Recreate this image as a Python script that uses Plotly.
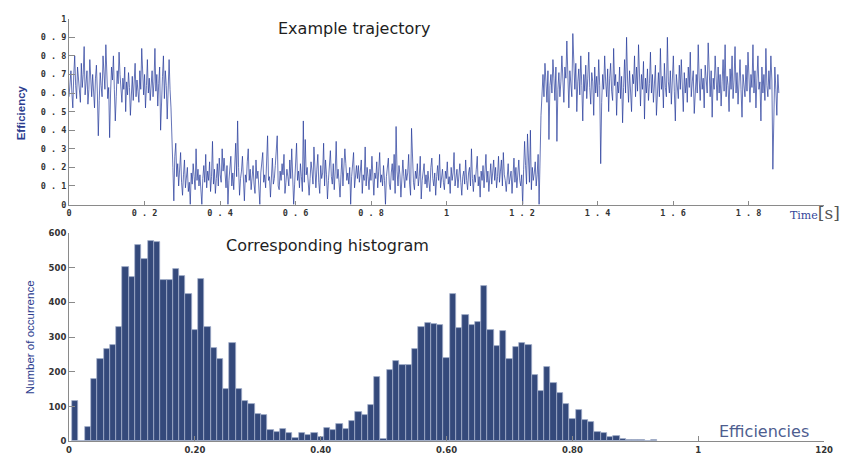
import numpy as np
import plotly.graph_objects as go

# ---------------- trajectory (efficiency vs time) ----------------
# three dwell segments: high state, low state, high state again
seg1_span = (0.000, 0.270)
eff_seg1 = [0.58, 0.66, 0.72, 0.60, 0.52, 0.70, 0.80, 0.64, 0.57, 0.74,
            0.68, 0.61, 0.55, 0.76, 0.63, 0.70, 0.85, 0.59, 0.66, 0.72,
            0.54, 0.62, 0.78, 0.67, 0.58, 0.70, 0.63, 0.52, 0.68, 0.75,
            0.60, 0.37, 0.56, 0.71, 0.64, 0.58, 0.80, 0.66, 0.62, 0.86,
            0.70, 0.57, 0.63, 0.36, 0.60, 0.74, 0.67, 0.80, 0.62, 0.45,
            0.58, 0.72, 0.65, 0.82, 0.70, 0.60, 0.55, 0.68, 0.62, 0.74,
            0.50, 0.66, 0.59, 0.71, 0.63, 0.48, 0.60, 0.69, 0.56, 0.64,
            0.76, 0.58, 0.67, 0.61, 0.55, 0.72, 0.62, 0.84, 0.66, 0.59,
            0.70, 0.52, 0.64, 0.78, 0.60, 0.68, 0.56, 0.63, 0.72, 0.58,
            0.66, 0.84, 0.61, 0.70, 0.53, 0.65, 0.74, 0.40, 0.62, 0.69,
            0.80, 0.57, 0.72, 0.64, 0.46, 0.70, 0.78, 0.62, 0.52]

seg2_span = (0.275, 1.245)
eff_seg2 = [0.20, 0.02, 0.26, 0.33, 0.15, 0.22, 0.10, 0.18, 0.28, 0.12,
            0.05, 0.16, 0.24, 0.09, 0.14, 0.20, 0.07, 0.12, 0.00, 0.17,
            0.11, 0.22, 0.15, 0.08, 0.30, 0.13, 0.19, 0.10, 0.16, 0.05,
            0.00, 0.14, 0.21, 0.12, 0.27, 0.09, 0.18, 0.13, 0.23, 0.07,
            0.15, 0.34, 0.11, 0.19, 0.06, 0.14, 0.22, 0.10, 0.25, 0.16,
            0.12, 0.30, 0.18, 0.25, 0.14, 0.09, 0.21, 0.00, 0.13, 0.19,
            0.26, 0.10, 0.17, 0.08, 0.22, 0.33, 0.15, 0.45, 0.20, 0.05,
            0.14, 0.18, 0.26, 0.09, 0.02, 0.16, 0.12, 0.23, 0.30, 0.13,
            0.19, 0.08, 0.15, 0.21, 0.11, 0.06, 0.24, 0.14, 0.18, 0.10,
            0.00, 0.17, 0.22, 0.28, 0.12, 0.16, 0.09, 0.20, 0.37, 0.13,
            0.15, 0.04, 0.19, 0.25, 0.11, 0.14, 0.21, 0.32, 0.37, 0.10,
            0.08, 0.18, 0.13, 0.22, 0.16, 0.27, 0.06, 0.12, 0.19, 0.15,
            0.10, 0.24, 0.14, 0.30, 0.17, 0.00, 0.11, 0.20, 0.33, 0.13,
            0.18, 0.09, 0.22, 0.15, 0.07, 0.45, 0.12, 0.35, 0.16, 0.20,
            0.10, 0.05, 0.14, 0.23, 0.18, 0.11, 0.31, 0.15, 0.09, 0.19,
            0.27, 0.12, 0.06, 0.21, 0.14, 0.17, 0.33, 0.10, 0.24, 0.16,
            0.03, 0.13, 0.20, 0.29, 0.15, 0.11, 0.22, 0.08, 0.18, 0.34,
            0.14, 0.19, 0.12, 0.04, 0.16, 0.25, 0.10, 0.21, 0.30, 0.22,
            0.13, 0.17, 0.11, 0.20, 0.00, 0.15, 0.24, 0.28, 0.09, 0.18,
            0.21, 0.14, 0.21, 0.12, 0.19, 0.24, 0.06, 0.16, 0.13, 0.31,
            0.10, 0.20, 0.15, 0.08, 0.19, 0.13, 0.26, 0.11, 0.05, 0.17,
            0.14, 0.23, 0.09, 0.18, 0.28, 0.12, 0.16, 0.10, 0.21, 0.13,
            0.00, 0.15, 0.19, 0.25, 0.11, 0.08, 0.17, 0.22, 0.13, 0.27,
            0.06, 0.42, 0.18, 0.10, 0.21, 0.16, 0.04, 0.12, 0.24, 0.15,
            0.09, 0.19, 0.13, 0.17, 0.27, 0.11, 0.05, 0.41, 0.20, 0.12,
            0.08, 0.18, 0.14, 0.22, 0.10, 0.15, 0.26, 0.03, 0.13, 0.19,
            0.22, 0.11, 0.16, 0.09, 0.18, 0.12, 0.07, 0.20, 0.25, 0.14,
            0.10, 0.17, 0.05, 0.15, 0.21, 0.13, 0.27, 0.09, 0.16, 0.19,
            0.12, 0.08, 0.18, 0.14, 0.23, 0.11, 0.15, 0.06, 0.20, 0.13,
            0.17, 0.28, 0.10, 0.14, 0.19, 0.09, 0.16, 0.22, 0.12, 0.05,
            0.15, 0.18, 0.11, 0.24, 0.13, 0.08, 0.17, 0.20, 0.10, 0.30,
            0.14, 0.07, 0.16, 0.12, 0.19, 0.26, 0.10, 0.15, 0.04, 0.18,
            0.13, 0.21, 0.09, 0.16, 0.27, 0.12, 0.18, 0.07, 0.14, 0.22,
            0.11, 0.17, 0.24, 0.13, 0.20, 0.09, 0.15, 0.26, 0.12, 0.18,
            0.24, 0.10, 0.28, 0.16, 0.13, 0.07, 0.19, 0.22, 0.11, 0.15,
            0.18, 0.06, 0.14, 0.25, 0.12, 0.20, 0.09, 0.17, 0.24, 0.13,
            0.10, 0.16, 0.00, 0.19, 0.34, 0.21, 0.11, 0.38, 0.26, 0.12,
            0.40, 0.08, 0.20, 0.13, 0.17, 0.23, 0.10, 0.16, 0.27, 0.00]

seg3_span = (1.250, 1.880)
eff_seg3 = [0.48, 0.62, 0.70, 0.58, 0.76, 0.66, 0.55, 0.72, 0.35, 0.64,
            0.70, 0.60, 0.78, 0.68, 0.56, 0.74, 0.34, 0.62, 0.71, 0.58,
            0.66, 0.80, 0.62, 0.55, 0.74, 0.68, 0.88, 0.60, 0.52, 0.72,
            0.64, 0.58, 0.92, 0.70, 0.62, 0.76, 0.50, 0.66, 0.73, 0.59,
            0.80, 0.64, 0.45, 0.70, 0.61, 0.75, 0.57, 0.68, 0.82, 0.63,
            0.54, 0.71, 0.66, 0.48, 0.74, 0.60, 0.69, 0.58, 0.78, 0.64,
            0.22, 0.55, 0.70, 0.62, 0.80, 0.66, 0.58, 0.73, 0.50, 0.68,
            0.76, 0.61, 0.56, 0.84, 0.64, 0.70, 0.48, 0.66, 0.60, 0.74,
            0.57, 0.69, 0.44, 0.63, 0.78, 0.60, 0.90, 0.67, 0.55, 0.72,
            0.62, 0.50, 0.70, 0.65, 0.80, 0.58, 0.74, 0.61, 0.86, 0.66,
            0.53, 0.70, 0.62, 0.77, 0.46, 0.68, 0.60, 0.73, 0.56, 0.65,
            0.82, 0.60, 0.70, 0.55, 0.67, 0.75, 0.48, 0.64, 0.71, 0.58,
            0.84, 0.62, 0.69, 0.52, 0.76, 0.63, 0.58, 0.90, 0.66, 0.60,
            0.72, 0.54, 0.68, 0.80, 0.61, 0.45, 0.70, 0.64, 0.57, 0.75,
            0.62, 0.78, 0.66, 0.50, 0.71, 0.60, 0.68, 0.55, 0.74, 0.63,
            0.82, 0.58, 0.66, 0.72, 0.49, 0.64, 0.70, 0.60, 0.86, 0.67,
            0.56, 0.73, 0.62, 0.68, 0.52, 0.75, 0.64, 0.60, 0.87, 0.66,
            0.58, 0.72, 0.47, 0.68, 0.62, 0.80, 0.65, 0.56, 0.74, 0.60,
            0.70, 0.53, 0.66, 0.78, 0.61, 0.86, 0.58, 0.69, 0.64, 0.50,
            0.73, 0.62, 0.80, 0.57, 0.67, 0.85, 0.60, 0.71, 0.54, 0.66,
            0.78, 0.62, 0.47, 0.70, 0.64, 0.58, 0.75, 0.61, 0.82, 0.66,
            0.55, 0.70, 0.63, 0.86, 0.60, 0.72, 0.52, 0.68, 0.80, 0.62,
            0.66, 0.45, 0.74, 0.60, 0.70, 0.56, 0.84, 0.64, 0.58, 0.72,
            0.62, 0.80, 0.67, 0.19, 0.55, 0.74, 0.62, 0.48, 0.70, 0.60]

traj_x_ticks = [0, 0.2, 0.4, 0.6, 0.8, 1.0, 1.2, 1.4, 1.6, 1.8, 2.0]
traj_x_labels = ["0", "0 . 2", "0 . 4", "0 . 6", "0 . 8", "1",
                 "1 . 2", "1 . 4", "1 . 6", "1 . 8", ""]
traj_y_ticks = [0, 0.1, 0.2, 0.3, 0.4, 0.5, 0.6, 0.7, 0.8, 0.9, 1.0]
traj_y_labels = ["0", "0 . 1", "0 . 2", "0 . 3", "0 . 4", "0 . 5",
                 "0 . 6", "0 . 7", "0 . 8", "0 . 9", "1"]

# ---------------- histogram of efficiencies ----------------
bin_width = 0.01
hist_counts = [117, 0, 41, 180, 236, 265, 278, 328, 503, 472,
               566, 524, 578, 575, 464, 466, 496, 477, 425, 321,
               467, 330, 268, 238, 152, 282, 152, 116, 109, 80,
               75, 33, 28, 37, 24, 9, 23, 19, 23, 14,
               38, 32, 49, 36, 58, 85, 76, 106, 185, 8,
               205, 232, 220, 219, 267, 330, 342, 339, 335, 239,
               424, 326, 364, 334, 345, 447, 322, 275, 319, 236,
               273, 282, 277, 192, 146, 214, 167, 140, 107, 64,
               89, 61, 56, 28, 23, 13, 15, 8, 5, 5,
               3, 0, 3]
hist_x_ticks = [0, 0.2, 0.4, 0.6, 0.8, 1.0, 1.2]
hist_x_labels = ["0", "0.20", "0.40", "0.60", "0.80", "1", "120"]
hist_y_ticks = [0, 100, 200, 300, 400, 500, 600]

# ---------------- build traces ----------------
times, effs = [], []
for (t0, t1), vals in [(seg1_span, eff_seg1), (seg2_span, eff_seg2), (seg3_span, eff_seg3)]:
    times.append(np.linspace(t0, t1, len(vals)))
    effs.append(np.asarray(vals))
time = np.concatenate(times)
eff = np.concatenate(effs)

bin_centres = bin_width * np.arange(1, len(hist_counts) + 1)

W, H = 843, 460
def px(x):
    return x / W
def py(y):
    return 1 - y / H

AX_COLOR = "#8a8a8a"
TICK_FONT_TOP = dict(family="DejaVu Sans Mono", size=8.5, color="#333333", weight="bold")
TICK_FONT_BOT = dict(family="DejaVu Sans", size=8.5, color="#333333", weight="bold")
LABEL_FONT = "Liberation Sans, Arial, sans-serif"

fig = go.Figure()
fig.add_trace(go.Scatter(
    x=time, y=eff, mode="lines",
    line=dict(color="#23389a", width=0.7),
    xaxis="x", yaxis="y", showlegend=False, hoverinfo="skip",
))
fig.add_trace(go.Bar(
    x=bin_centres, y=hist_counts, width=bin_width,
    marker=dict(color="#34497b", line=dict(color="#a7b3cf", width=0.7)),
    xaxis="x2", yaxis="y2", showlegend=False, hoverinfo="skip",
))

x_dom = [px(67), px(833)]
common = dict(showgrid=False, zeroline=False, showline=True, linecolor=AX_COLOR,
              linewidth=1, ticks="inside", tickcolor=AX_COLOR, mirror=False)

fig.update_layout(
    width=W, height=H,
    margin=dict(l=0, r=0, t=0, b=0),
    paper_bgcolor="white", plot_bgcolor="white",
    bargap=0,
    xaxis=dict(domain=x_dom, range=[0, 2], anchor="y",
               tickmode="array", tickvals=traj_x_ticks, ticktext=traj_x_labels,
               ticklen=4, tickfont=TICK_FONT_TOP, **common),
    yaxis=dict(domain=[py(204), py(14)], range=[0, 1], anchor="x",
               tickmode="array", tickvals=traj_y_ticks, ticktext=traj_y_labels,
               ticklen=6, tickfont=TICK_FONT_TOP, **common),
    xaxis2=dict(domain=x_dom, range=[0, 1.2], anchor="y2",
                tickmode="array", tickvals=hist_x_ticks, ticktext=hist_x_labels,
                ticklen=5, tickfont=TICK_FONT_BOT, **common),
    yaxis2=dict(domain=[py(446), py(233)], range=[0, 600], anchor="x2",
                tickmode="array", tickvals=hist_y_ticks,
                ticklen=6, tickfont=TICK_FONT_BOT, **common),
)

annotations = [
    dict(text="Example trajectory", x=px(356), y=py(24),
         font=dict(family="DejaVu Sans", size=16, color="#1e1e1e")),
    dict(text="Corresponding histogram", x=px(329), y=py(246),
         font=dict(family="DejaVu Sans", size=16, color="#1e1e1e")),
    dict(text="Efficiencies", x=px(772), y=py(436),
         font=dict(family="DejaVu Sans", size=16, color="#4e5d8f")),
    dict(text="Efficiency", x=px(18), y=py(110), textangle=-90,
         font=dict(family=LABEL_FONT, size=11.5, color="#2c3d8f", weight="bold")),
    dict(text="Number of occurrence", x=px(27), y=py(340), textangle=-90,
         font=dict(family=LABEL_FONT, size=11.5, color="#2c3d8f")),
    dict(text="<span style='font-size:11px;color:#34469a'>Time</span>"
              "<span style='font-size:17px;color:#555555'>[s]</span>",
         x=px(796), y=py(213), xanchor="left",
         font=dict(family="DejaVu Serif", size=12, color="#34469a")),
]
for a in annotations:
    a.setdefault("xanchor", "center")
    a.update(xref="paper", yref="paper", yanchor="middle", showarrow=False)
fig.update_layout(annotations=annotations)

fig.write_html("out.html")
